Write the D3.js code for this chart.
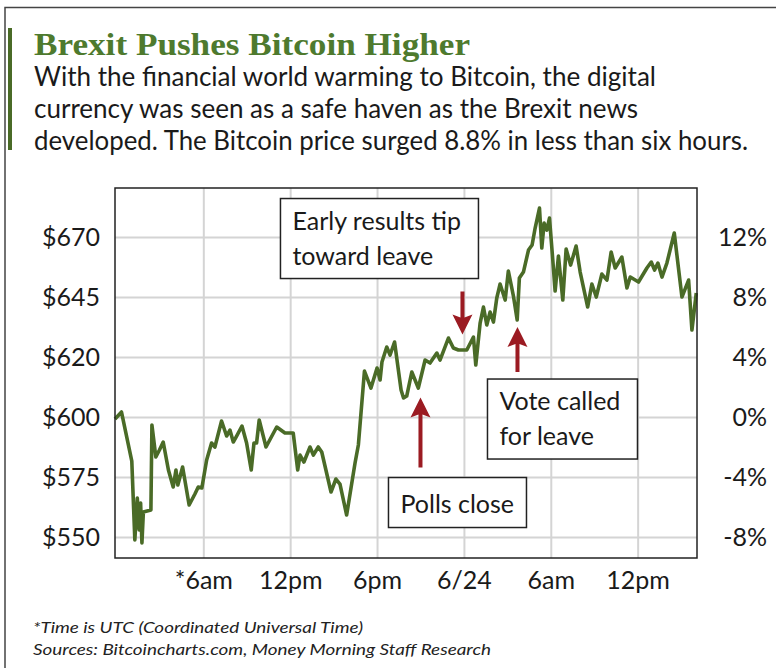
<!DOCTYPE html>
<html>
<head>
<meta charset="utf-8">
<script src="https://cdn.jsdelivr.net/npm/d3@7"></script>
<style>
  html, body { margin: 0; padding: 0; background: #fff; }
  svg { display: block; }
</style>
</head>
<body>
<svg id="chart" width="776" height="668"></svg>
<script>
// hours since 2016-06-23 00:00 UTC
const hours = [
  -0.1, 0.35, 1.06, 1.27, 1.44, 1.57, 1.67, 1.76, 1.86, 2.38,
  2.45, 2.72, 2.97, 3.23, 3.59, 3.92, 4.11, 4.24, 4.57, 5.02,
  5.42, 5.65, 5.9, 6.23, 6.57, 6.8, 7.26, 7.61, 7.84, 8.07,
  8.3, 8.67, 8.99, 9.31, 9.5, 9.68, 9.86, 10.33, 11.07, 11.64,
  12.21, 12.52, 12.68, 12.95, 13.37, 13.6, 13.94, 14.18, 14.82, 15.16,
  15.44, 15.9, 16.48, 16.71, 17.13, 17.58, 18.0, 18.21, 18.34, 18.67,
  18.9, 19.21, 19.66, 19.83, 20.05, 20.4, 20.85, 21.32, 21.66, 22.13,
  22.35, 22.93, 23.27, 23.62, 24.2, 24.66, 24.82, 25.12, 25.35, 25.58,
  25.81, 26.04, 26.27, 26.5, 26.85, 27.07, 27.42, 27.68, 27.83, 28.11,
  28.46, 28.71, 28.92, 29.22, 29.38, 29.54, 29.73, 29.91, 30.14, 30.3,
  30.53, 30.83, 31.06, 31.37, 31.75, 32.03, 32.55, 32.84, 33.14, 33.53,
  33.88, 34.17, 34.45, 34.91, 35.26, 35.49, 36.06, 36.64, 36.94, 37.17,
  37.4, 37.68, 38.02, 38.53, 39.06, 39.52, 39.75, 40.05
];

// Bitcoin price, USD
const prices = [
  599.2, 602.0, 582.4, 550.8, 567.6, 554.8, 565.6, 549.6, 562.0, 562.8,
  596.8, 584.0, 586.8, 590.0, 578.8, 572.0, 578.8, 572.8, 580.0, 564.8,
  569.2, 572.0, 571.6, 582.8, 589.6, 588.0, 598.4, 592.4, 594.8, 590.0,
  592.4, 596.4, 589.6, 578.8, 589.6, 589.6, 598.8, 588.0, 596.0, 593.6,
  593.6, 578.8, 584.8, 582.0, 588.0, 584.8, 588.0, 586.0, 570.0, 575.2,
  573.2, 560.8, 581.6, 588.8, 618.4, 611.6, 619.6, 614.8, 622.0, 628.0,
  624.8, 630.0, 610.8, 607.6, 608.4, 618.0, 611.6, 622.8, 621.6, 625.6,
  622.8, 631.6, 627.6, 626.8, 626.8, 632.0, 620.8, 637.6, 644.0, 636.8,
  642.0, 638.0, 647.6, 653.2, 646.8, 658.4, 648.4, 638.8, 655.6, 658.0,
  666.8, 668.8, 675.6, 683.6, 667.6, 677.6, 674.8, 679.6, 662.8, 650.4,
  664.4, 646.8, 667.2, 660.8, 668.4, 658.0, 644.0, 653.2, 648.0, 657.2,
  654.8, 666.0, 659.6, 664.0, 651.6, 656.0, 654.0, 659.6, 662.0, 658.8,
  661.6, 656.0, 661.6, 673.6, 648.0, 654.8, 634.8, 649.6
];

const basePrice = 600;

const pctTicks = [-8, -4, 0, 4, 8, 12];
const priceLabels = ["$550", "$575", "$600", "$620", "$645", "$670"];
const pctLabels = ["-8%", "-4%", "0%", "4%", "8%", "12%"];

const xTickHours = [6, 12, 18, 24, 30, 36];
const xTickLabels = ["*6am", "12pm", "6pm", "6/24", "6am", "12pm"];

const notes = [
  { lines: ["Early results tip", "toward leave"], hour: 23.9, pct: 5.5, dir: "down" },
  { lines: ["Polls close"], hour: 21.0, pct: 1.3, dir: "up" },
  { lines: ["Vote called", "for leave"], hour: 27.7, pct: 6.0, dir: "up" }
];

const title = "Brexit Pushes Bitcoin Higher";
const subtitle = [
  "With the financial world warming to Bitcoin, the digital",
  "currency was seen as a safe haven as the Brexit news",
  "developed. The Bitcoin price surged 8.8% in less than six hours."
];
const footnotes = [
  "*Time is UTC (Coordinated Universal Time)",
  "Sources: Bitcoincharts.com, Money Morning Staff Research"
];

const green = "#4a6b27";
const red = "#9b1b22";
const sans = "Lato, 'Open Sans', sans-serif";

const svg = d3.select("#chart");
const margin = { top: 188, right: 79, bottom: 110, left: 115 };
const width = 776, height = 668;
const innerW = width - margin.left - margin.right;
const innerH = height - margin.top - margin.bottom;

// frame + accent bar
svg.append("path")
  .attr("d", d3.line()([[5, 668], [5, 7.5], [776, 7.5]]))
  .attr("fill", "none")
  .attr("stroke", "#444")
  .attr("stroke-width", 1.5);
svg.append("rect")
  .attr("x", 8).attr("y", 28).attr("width", 4).attr("height", 122)
  .attr("fill", green);

svg.append("text")
  .attr("x", 34).attr("y", 55)
  .attr("font-family", "'Liberation Serif', 'DejaVu Serif', serif")
  .attr("font-weight", "bold")
  .attr("font-size", 32)
  .attr("fill", "#4e7a2e")
  .attr("textLength", 436)
  .attr("lengthAdjust", "spacingAndGlyphs")
  .text(title);

const subLens = [622, 604, 714];
svg.append("g")
  .selectAll("text")
  .data(subtitle)
  .join("text")
  .attr("x", 34)
  .attr("y", (d, i) => 86 + i * 32)
  .attr("font-family", sans)
  .attr("font-size", 26)
  .attr("fill", "#1a1a1a")
  .attr("textLength", (d, i) => subLens[i])
  .attr("lengthAdjust", "spacingAndGlyphs")
  .text((d) => d);

// scales
const x = d3.scaleLinear().domain([-0.1, 40.1]).range([0, innerW]);
const y = d3.scaleLinear().domain([-9.4, 15.27]).range([innerH, 0]);
const toPct = (p) => (p / basePrice - 1) * 100;

const g = svg.append("g").attr("transform", `translate(${margin.left},${margin.top})`);

// grid
g.append("g")
  .attr("class", "grid-x")
  .call(d3.axisBottom(x).tickValues(xTickHours).tickSize(innerH).tickFormat(""))
  .call((s) => s.select(".domain").remove())
  .call((s) => s.selectAll("line").attr("stroke", "#d4d4d4").attr("stroke-width", 2));

g.append("g")
  .attr("class", "grid-y")
  .call(d3.axisLeft(y).tickValues(pctTicks).tickSize(-innerW).tickFormat(""))
  .call((s) => s.select(".domain").remove())
  .call((s) => s.selectAll("line").attr("stroke", "#d4d4d4").attr("stroke-width", 2));

// line
const series = hours.map((h, i) => ({ h, p: prices[i] }));
g.append("path")
  .datum(series)
  .attr("fill", "none")
  .attr("stroke", green)
  .attr("stroke-width", 3.6)
  .attr("stroke-linejoin", "round")
  .attr("d", d3.line().x((d) => x(d.h)).y((d) => y(toPct(d.p))));

// frame
g.append("rect")
  .attr("width", innerW).attr("height", innerH)
  .attr("fill", "none")
  .attr("stroke", "#222")
  .attr("stroke-width", 1.5);

// axes labels
const axisFont = (s) => s.selectAll("text")
  .attr("font-family", sans)
  .attr("font-size", 25)
  .attr("fill", "#1a1a1a");

g.append("g")
  .call(d3.axisLeft(y).tickValues(pctTicks).tickSize(0).tickPadding(15)
    .tickFormat((d, i) => priceLabels[i]))
  .call((s) => s.select(".domain").remove())
  .call(axisFont);

g.append("g")
  .attr("transform", `translate(${innerW},0)`)
  .call(d3.axisRight(y).tickValues(pctTicks).tickSize(0).tickPadding(70)
    .tickFormat((d, i) => pctLabels[i]))
  .call((s) => s.select(".domain").remove())
  .call(axisFont)
  .call((s) => s.selectAll("text").attr("text-anchor", "end"));

g.append("g")
  .attr("transform", `translate(0,${innerH})`)
  .call(d3.axisBottom(x).tickValues(xTickHours).tickSize(0).tickPadding(13)
    .tickFormat((d, i) => xTickLabels[i]))
  .call((s) => s.select(".domain").remove())
  .call(axisFont);

// annotations
function arrow(sel, cx, tipY, len, dir) {
  const s = dir === "up" ? 1 : -1;
  const head = 20, shaft = 4, half = 10;
  const baseY = tipY + s * head;
  const tailY = tipY + s * len;
  sel.append("path")
    .attr("d", d3.line()([
      [cx, tipY], [cx + half, baseY], [cx + shaft / 2, baseY - s * 3],
      [cx + shaft / 2, tailY], [cx - shaft / 2, tailY],
      [cx - shaft / 2, baseY - s * 3], [cx - half, baseY]
    ]) + "Z")
    .attr("fill", red);
}

function box(sel, bx, by, bw, lines) {
  const bh = lines.length === 1 ? 50 : 80;
  sel.append("rect")
    .attr("x", bx).attr("y", by).attr("width", bw).attr("height", bh)
    .attr("fill", "#fff").attr("stroke", "#222").attr("stroke-width", 1.5);
  sel.selectAll(null)
    .data(lines)
    .join("text")
    .attr("x", bx + 12)
    .attr("y", (d, i) => by + (lines.length === 1 ? 35 : 31 + i * 35))
    .attr("font-family", sans)
    .attr("font-size", 25)
    .attr("fill", "#1a1a1a")
    .text((d) => d);
}

const ann = g.append("g");
const [early, polls, vote] = notes;

arrow(ann, x(early.hour), y(early.pct), 43, early.dir);
box(ann, x(early.hour) - 182, y(early.pct) - 136, 198, early.lines);

arrow(ann, x(polls.hour), y(polls.pct), 70, polls.dir);
box(ann, x(polls.hour) - 32, y(polls.pct) + 80, 138, polls.lines);

arrow(ann, x(vote.hour), y(vote.pct), 45, vote.dir);
box(ann, x(vote.hour) - 30, y(vote.pct) + 52, 150, vote.lines);

// footnotes
svg.append("g")
  .selectAll("text")
  .data(footnotes)
  .join("text")
  .attr("x", 33)
  .attr("y", (d, i) => 633 + i * 22)
  .attr("font-family", sans)
  .attr("font-style", "italic")
  .attr("font-size", 16)
  .attr("fill", "#222")
  .attr("textLength", (d, i) => [330, 458][i])
  .attr("lengthAdjust", "spacingAndGlyphs")
  .text((d) => d);
</script>
</body>
</html>
